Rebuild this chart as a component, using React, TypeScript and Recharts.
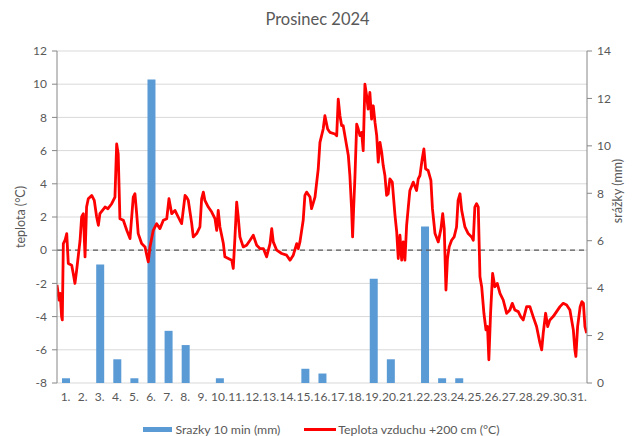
import React from 'react';
import { ComposedChart, Bar, Line, XAxis, YAxis, CartesianGrid, ReferenceLine, Label } from 'recharts';

const dayLabels = [
  '1.', '2.', '3.', '4.', '5.', '6.', '7.', '8.', '9.', '10.',
  '11.', '12.', '13.', '14.', '15.', '16.', '17.', '18.', '19.', '20.',
  '21.', '22.', '23.', '24.', '25.', '26.', '27.', '28.', '29.', '30.', '31.',
];

// srážky za den (mm), pravá osa
const precipitation = [
  0.2, 0, 5.0, 1.0, 0.2, 12.8, 2.2, 1.6, 0, 0.2,
  0, 0, 0, 0, 0.6, 0.4, 0, 0, 4.4, 1.0,
  0, 6.6, 0.2, 0.2, 0, 0, 0, 0, 0, 0, 0,
];

// teplota: [čas ve dnech od 1.12. 0:00, °C]
const temperature: [number, number][] = [
  [0.00, -2.1], [0.12, -3.0], [0.19, -2.6], [0.27, -4.0], [0.31, -4.2], [0.37, 0.4], [0.47, 0.6],
  [0.57, 1.0], [0.66, -0.8], [0.86, -0.9], [0.95, -1.4], [1.05, -2.0], [1.15, -1.2], [1.35, 0.6],
  [1.44, 2.0], [1.54, 2.2], [1.64, -0.4], [1.73, 2.6], [1.83, 3.1], [2.03, 3.3], [2.18, 3.0],
  [2.32, 2.0], [2.42, 1.5], [2.51, 2.2], [2.81, 2.6], [2.98, 2.5], [3.20, 2.8], [3.39, 3.2],
  [3.49, 6.4], [3.58, 5.8], [3.68, 1.9], [3.88, 1.8], [4.08, 1.2], [4.27, 0.7], [4.46, 3.2],
  [4.56, 3.4], [4.66, 2.2], [4.75, 1.0], [4.95, 0.4], [5.15, 0.2], [5.25, -0.3], [5.34, -0.7],
  [5.44, 0.2], [5.63, 1.2], [5.83, 1.6], [6.02, 1.3], [6.22, 1.8], [6.42, 1.9], [6.55, 3.1],
  [6.71, 2.2], [6.90, 2.4], [7.09, 2.0], [7.29, 1.6], [7.49, 3.3], [7.58, 3.2], [7.68, 3.0],
  [7.88, 1.6], [7.97, 0.8], [8.17, 1.0], [8.36, 1.4], [8.46, 3.1], [8.56, 3.5], [8.65, 3.0],
  [8.85, 2.6], [9.05, 2.3], [9.24, 1.9], [9.34, 1.2], [9.43, 2.4], [9.53, 1.4], [9.73, 0.4],
  [9.82, -0.4], [10.02, -0.5], [10.22, -0.6], [10.31, -1.1], [10.41, 0.8], [10.51, 2.9], [10.60, 2.0],
  [10.70, 0.8], [10.89, 0.2], [11.09, 0.3], [11.29, 0.6], [11.48, 0.9], [11.68, 0.3], [11.87, 0.1],
  [12.07, 0.1], [12.26, -0.4], [12.46, 0.4], [12.56, 1.3], [12.65, 0.5], [12.85, 0.0], [13.14, -0.2],
  [13.43, -0.3], [13.63, -0.6], [13.82, -0.3], [14.02, 0.4], [14.11, 0.1], [14.21, 0.5], [14.40, 1.8],
  [14.50, 3.3], [14.60, 3.5], [14.80, 3.2], [14.89, 2.5], [15.09, 3.2], [15.28, 4.9], [15.38, 6.5],
  [15.57, 7.3], [15.67, 8.1], [15.83, 7.3], [15.96, 7.1], [16.26, 7.0], [16.36, 6.9], [16.45, 9.1],
  [16.55, 8.1], [16.65, 7.5], [16.74, 7.5], [16.94, 6.3], [17.04, 5.7], [17.13, 4.5], [17.23, 2.5],
  [17.29, 0.8], [17.35, 2.5], [17.43, 4.5], [17.53, 7.6], [17.62, 7.3], [17.72, 6.9], [17.82, 7.1],
  [17.91, 6.0], [18.01, 10.0], [18.11, 9.3], [18.20, 8.5], [18.30, 9.5], [18.40, 7.9], [18.50, 8.7],
  [18.60, 7.7], [18.70, 6.9], [18.79, 5.3], [18.89, 6.5], [18.99, 5.9], [19.08, 5.1], [19.18, 4.5],
  [19.28, 3.3], [19.37, 3.4], [19.47, 4.3], [19.61, 4.1], [19.77, 2.1], [19.87, 1.1], [19.96, -0.5],
  [20.06, 0.9], [20.16, -0.6], [20.25, 0.5], [20.35, -0.6], [20.45, 1.5], [20.54, 2.5], [20.64, 3.6],
  [20.84, 4.1], [21.03, 3.6], [21.13, 4.3], [21.23, 4.5], [21.36, 5.5], [21.46, 6.1], [21.56, 4.9],
  [21.71, 4.8], [21.87, 4.2], [21.96, 2.5], [22.11, 1.0], [22.30, 0.5], [22.46, 1.3], [22.56, 2.2],
  [22.65, 1.3], [22.75, -2.4], [22.84, -0.5], [22.94, 0.2], [23.08, 0.6], [23.23, 0.8], [23.37, 1.4],
  [23.46, 3.0], [23.57, 3.4], [23.67, 2.4], [23.86, 1.4], [24.05, 1.0], [24.25, 0.8], [24.35, 0.6],
  [24.44, 2.6], [24.54, 2.8], [24.64, 2.6], [24.74, -1.6], [24.84, -2.2], [24.97, -3.8], [25.09, -4.8],
  [25.18, -4.6], [25.26, -6.6], [25.36, -3.8], [25.48, -1.4], [25.61, -2.2], [25.75, -2.0], [25.91, -2.6],
  [26.10, -3.0], [26.30, -3.8], [26.49, -3.6], [26.63, -3.2], [26.78, -3.6], [26.98, -3.7], [27.12, -4.0],
  [27.27, -4.2], [27.47, -3.4], [27.66, -3.4], [27.85, -4.0], [28.05, -4.6], [28.25, -5.6], [28.35, -6.0],
  [28.44, -5.0], [28.58, -3.8], [28.70, -4.6], [28.83, -4.2], [29.02, -4.0], [29.22, -3.7], [29.42, -3.4],
  [29.61, -3.2], [29.81, -3.3], [30.00, -3.6], [30.20, -4.8], [30.29, -6.0], [30.35, -6.4], [30.45, -4.6],
  [30.60, -3.4], [30.70, -3.1], [30.79, -3.2], [30.88, -4.6], [30.98, -5.0],
];

const tempTicks = [-8, -6, -4, -2, 0, 2, 4, 6, 8, 10, 12];
const rainTicks = [0, 2, 4, 6, 8, 10, 12, 14];
const dayBounds = [
  0, 1, 2, 3, 4, 5, 6, 7, 8, 9, 10, 11, 12, 13, 14, 15,
  16, 17, 18, 19, 20, 21, 22, 23, 24, 25, 26, 27, 28, 29, 30, 31,
];

const barData = dayLabels.map((day, i) => ({ day, rain: precipitation[i] > 0 ? precipitation[i] : undefined }));
const lineData = temperature.map(([t, temp]) => ({ t, temp }));

const FONT = 'Lato, "Liberation Sans", sans-serif';
const TEXT = '#595959';
const AXIS = '#868686';

const AxisTitle = ({ viewBox, value, x, shift = 0 }: any) => {
  const cy = viewBox.y + viewBox.height / 2 + shift;
  return (
    <text x={x} y={cy} transform={`rotate(-90 ${x} ${cy})`} textAnchor="middle"
      dominantBaseline="central" fill={TEXT} fontSize={12.5} fontFamily={FONT}>
      {value}
    </text>
  );
};

export default function App() {
  return (
    <div style={{ position: 'absolute', left: 0, top: 0, width: 635, height: 436, background: '#fff', fontFamily: FONT }}>
      <div style={{ position: 'absolute', top: 9, left: 0, width: 635, textAlign: 'center', fontSize: 16.5, color: TEXT }}>
        Prosinec 2024
      </div>
      <ComposedChart width={635} height={436} data={barData} margin={{ top: 51, right: 0, left: 0, bottom: 23 }}>
        <CartesianGrid yAxisId="t" xAxisId="grid" vertical={false} stroke="#d9d9d9" />
        <XAxis xAxisId="grid" type="number" dataKey="t" domain={[0, 31]} allowDataOverflow ticks={dayBounds}
          interval={0} tickFormatter={() => ''} height={0} tickSize={5}
          axisLine={{ stroke: AXIS }} tickLine={{ stroke: AXIS }} />
        <XAxis xAxisId="lab" type="category" dataKey="day" interval={0} axisLine={false} tickLine={false}
          tickSize={5} tickMargin={4} height={30} tick={{ fill: TEXT, fontSize: 12, fontFamily: FONT }} />
        <YAxis yAxisId="t" domain={[-8, 12]} ticks={tempTicks} interval={0} width={57} tickSize={5} tickMargin={5}
          axisLine={{ stroke: AXIS }} tickLine={{ stroke: AXIS }} tick={{ fill: TEXT, fontSize: 12, fontFamily: FONT }}
          label={<Label content={(p: any) => <AxisTitle {...p} x={20} value="teplota (°C)" />} />} />
        <YAxis yAxisId="p" orientation="right" domain={[0, 14]} ticks={rainTicks} interval={0} width={48} tickSize={5}
          tickMargin={5} axisLine={{ stroke: AXIS }} tickLine={{ stroke: AXIS }}
          tick={{ fill: TEXT, fontSize: 12, fontFamily: FONT }}
          label={<Label content={(p: any) => <AxisTitle {...p} x={617} shift={-26} value="srážky (mm)" />} />} />
        <ReferenceLine yAxisId="t" xAxisId="grid" y={0} stroke="#595959" strokeDasharray="5 4" strokeWidth={1.2} />
        <Bar xAxisId="lab" yAxisId="p" dataKey="rain" barSize={8} fill="#5b9bd5" isAnimationActive={false} />
        <Line xAxisId="grid" yAxisId="t" data={lineData} dataKey="temp" type="linear" dot={false}
          stroke="#ff0000" strokeWidth={2.8} strokeLinejoin="round" isAnimationActive={false} />
      </ComposedChart>
      <div style={{ position: 'absolute', top: 423, left: 4, width: 635, height: 13, lineHeight: '13px', display: 'flex',
        justifyContent: 'center', alignItems: 'center', fontSize: 12.3, color: TEXT, whiteSpace: 'nowrap' }}>
        <span style={{ display: 'inline-block', width: 29, height: 5, background: '#5b9bd5', marginRight: 3 }} />
        <span>Srazky 10 min (mm)</span>
        <span style={{ display: 'inline-block', width: 32, height: 3, background: '#ff0000', marginLeft: 24, marginRight: 2 }} />
        <span>Teplota vzduchu +200 cm (°C)</span>
      </div>
    </div>
  );
}
